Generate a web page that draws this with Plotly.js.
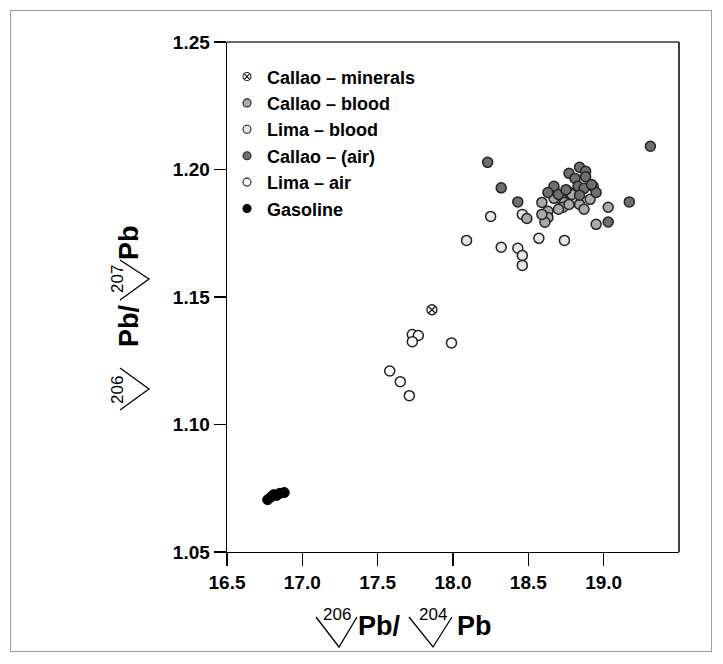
<!DOCTYPE html>
<html>
<head>
<meta charset="utf-8">
<script src="https://cdn.plot.ly/plotly-3.0.1.min.js"></script>
<style>
  html, body { margin: 0; padding: 0; background: #fff; }
  #wrap { position: relative; width: 723px; height: 664px; }
  #chart { width: 723px; height: 664px; }
  #frame { position: absolute; left: 10px; top: 10px; width: 700px; height: 640px;
           border: 1.5px solid #9a9a9a; pointer-events: none; }
</style>
</head>
<body>
<div id="wrap">
  <div id="chart"></div>
  <div id="frame"></div>
</div>
<script>
// ---- data ----
const seriesNames = ["Callao \u2013 minerals", "Callao \u2013 blood", "Lima \u2013 blood", "Callao \u2013 (air)", "Lima \u2013 air", "Gasoline"];

const callaoMineralsX = [17.86];
const callaoMineralsY = [1.145];

const callaoBloodX = [19.03, 18.95, 18.59, 18.63, 18.63, 18.61, 18.49, 18.74, 18.73, 18.77, 18.84, 18.87, 18.91, 18.67, 18.70, 18.67, 18.79, 18.59];
const callaoBloodY = [1.1852, 1.1785, 1.1871, 1.1836, 1.1812, 1.1793, 1.1808, 1.1871, 1.1852, 1.1863, 1.1863, 1.1844, 1.1883, 1.1887, 1.1844, 1.1922, 1.1902, 1.1824];

const limaBloodX = [18.25, 18.46, 18.09, 18.32, 18.43, 18.46, 18.46, 18.57, 18.74, 18.93, 18.77, 18.72];
const limaBloodY = [1.1816, 1.1824, 1.1722, 1.1695, 1.1691, 1.1663, 1.1624, 1.1730, 1.1722, 1.1934, 1.1911, 1.1883];

const callaoAirX = [18.23, 18.32, 18.43, 19.31, 19.17, 19.03, 18.77, 18.84, 18.88, 18.67, 18.63, 18.81, 18.88, 18.83, 18.87, 18.95, 18.70, 18.75, 18.92, 18.84];
const callaoAirY = [1.2028, 1.1928, 1.1873, 1.2091, 1.1873, 1.1794, 1.1985, 1.2009, 1.1993, 1.1934, 1.1910, 1.1965, 1.1972, 1.1934, 1.1926, 1.1910, 1.1902, 1.1921, 1.1941, 1.1899];

const limaAirX = [17.58, 17.65, 17.71, 17.73, 17.77, 17.73, 17.99];
const limaAirY = [1.121, 1.1168, 1.1113, 1.1353, 1.1349, 1.1325, 1.132];

const gasolineX = [16.77, 16.79, 16.81, 16.83, 16.85, 16.88];
const gasolineY = [1.0705, 1.0715, 1.0725, 1.0722, 1.0730, 1.0733];

const xTicks = [16.5, 17.0, 17.5, 18.0, 18.5, 19.0];
const xTickLabels = ["16.5", "17.0", "17.5", "18.0", "18.5", "19.0"];
const yTicks = [1.05, 1.10, 1.15, 1.20, 1.25];
const yTickLabels = ["1.05", "1.10", "1.15", "1.20", "1.25"];

// axis title pieces: [isotope superscript, element, isotope superscript, element]
const xTitleParts = ["206", "Pb/", "204", "Pb"];
const yTitleParts = ["206", "Pb/", "207", "Pb"];

// ---- styles ----
const FONT = "Liberation Sans, Arial, Helvetica, sans-serif";
const outline = { color: "#222", width: 1.5 };
const styles = [
  { symbol: "circle-x-open", size: 10, color: "#222", line: { color: "#222", width: 1.4 } },
  { symbol: "circle", size: 10, color: "#a9a9a9", line: outline },
  { symbol: "circle", size: 10, color: "#e6e6e6", line: outline },
  { symbol: "circle", size: 10, color: "#6f6f6f", line: outline },
  { symbol: "circle", size: 10, color: "#ffffff", line: outline },
  { symbol: "circle", size: 10, color: "#000000", line: { color: "#000", width: 1 } }
];
const dataSets = [
  [callaoMineralsX, callaoMineralsY], [callaoBloodX, callaoBloodY], [limaBloodX, limaBloodY],
  [callaoAirX, callaoAirY], [limaAirX, limaAirY], [gasolineX, gasolineY]
];
const drawOrder = [4, 5, 2, 1, 3, 0];

const traces = [];
drawOrder.forEach(function (i) {
  traces.push({ type: "scatter", mode: "markers", x: dataSets[i][0], y: dataSets[i][1],
    name: seriesNames[i], showlegend: false, marker: styles[i] });
});
// legend entries (smaller markers, as in the reference legend)
seriesNames.forEach(function (n, i) {
  const m = JSON.parse(JSON.stringify(styles[i]));
  m.size = 8; m.line.width = 1.1;
  traces.push({ type: "scatter", mode: "markers", x: [null], y: [null], name: n,
    legendgroup: "g" + i, legendrank: i + 1, showlegend: true, marker: m });
});

// pixel -> paper helpers for the plot box (l=227, r=679, t=42, b=552)
const L = 227, R = 679, T = 42, B = 552;
function px(x) { return (x - L) / (R - L); }
function py(y) { return (B - y) / (B - T); }
function ann(text, x, y, size, bold, angle) {
  return { text: text, xref: "paper", yref: "paper", x: px(x), y: py(y),
    xanchor: "center", yanchor: "middle", showarrow: false, textangle: angle || 0,
    font: { family: FONT, size: size, color: "#000", weight: bold ? "bold" : "normal" } };
}
function vee(p1, p2, p3) {
  return { type: "path", xref: "paper", yref: "paper",
    path: "M " + px(p1[0]) + " " + py(p1[1]) + " L " + px(p2[0]) + " " + py(p2[1]) + " L " + px(p3[0]) + " " + py(p3[1]),
    line: { color: "#000", width: 1.3 } };
}

const annotations = [
  ann(xTitleParts[0], 337, 614, 17, false, 0),
  ann(xTitleParts[1], 379, 626, 27, true, 0),
  ann(xTitleParts[2], 433, 614, 17, false, 0),
  ann(xTitleParts[3], 474, 626, 27, true, 0),
  ann(yTitleParts[0], 117, 390, 17, false, -90),
  ann(yTitleParts[1], 129, 326, 27, true, -90),
  ann(yTitleParts[2], 117, 279, 17, false, -90),
  ann(yTitleParts[3], 129, 243, 27, true, -90)
];
const shapes = [
  vee([316, 617], [339, 647], [357, 617]),
  vee([409, 617], [433, 647], [452, 617]),
  vee([120, 410], [149, 389], [120, 368]),
  vee([120, 300], [149, 279], [120, 260]),
  // plot frame: grey top edge, black right edge
  { type: "line", xref: "paper", yref: "paper", x0: 0, x1: 1, y0: 1, y1: 1, line: { color: "#6a6a6a", width: 2 } },
  { type: "line", xref: "paper", yref: "paper", x0: 1, x1: 1, y0: 0, y1: 1, line: { color: "#111", width: 1.6 } }
];

const tickFont = { family: FONT, size: 19, color: "#000", weight: "bold" };
const layout = {
  width: 723, height: 664,
  margin: { l: L, r: 723 - R, t: T, b: 664 - B },
  paper_bgcolor: "#fff", plot_bgcolor: "#fff",
  showlegend: true,
  legend: { x: 0.0, y: 0.968, xanchor: "left", yanchor: "top", bgcolor: "rgba(0,0,0,0)",
            traceorder: "normal", tracegroupgap: 2, itemwidth: 30,
            font: { family: FONT, size: 18, color: "#000", weight: "bold" } },
  xaxis: {
    range: [16.5, 19.5], tickmode: "array", tickvals: xTicks, ticktext: xTickLabels,
    ticks: "outside", ticklen: 13, tickwidth: 1.3, tickcolor: "#000",
    showline: true, linecolor: "#000", linewidth: 1.4, mirror: false,
    showgrid: false, zeroline: false, tickfont: tickFont
  },
  yaxis: {
    range: [1.05, 1.25], tickmode: "array", tickvals: yTicks, ticktext: yTickLabels,
    ticks: "outside", ticklen: 12, tickwidth: 1.3, tickcolor: "#000",
    showline: true, linecolor: "#000", linewidth: 1.4, mirror: false,
    showgrid: false, zeroline: false, tickfont: tickFont
  },
  annotations: annotations,
  shapes: shapes
};

Plotly.newPlot("chart", traces, layout, { displayModeBar: false, staticPlot: true });
</script>
</body>
</html>
